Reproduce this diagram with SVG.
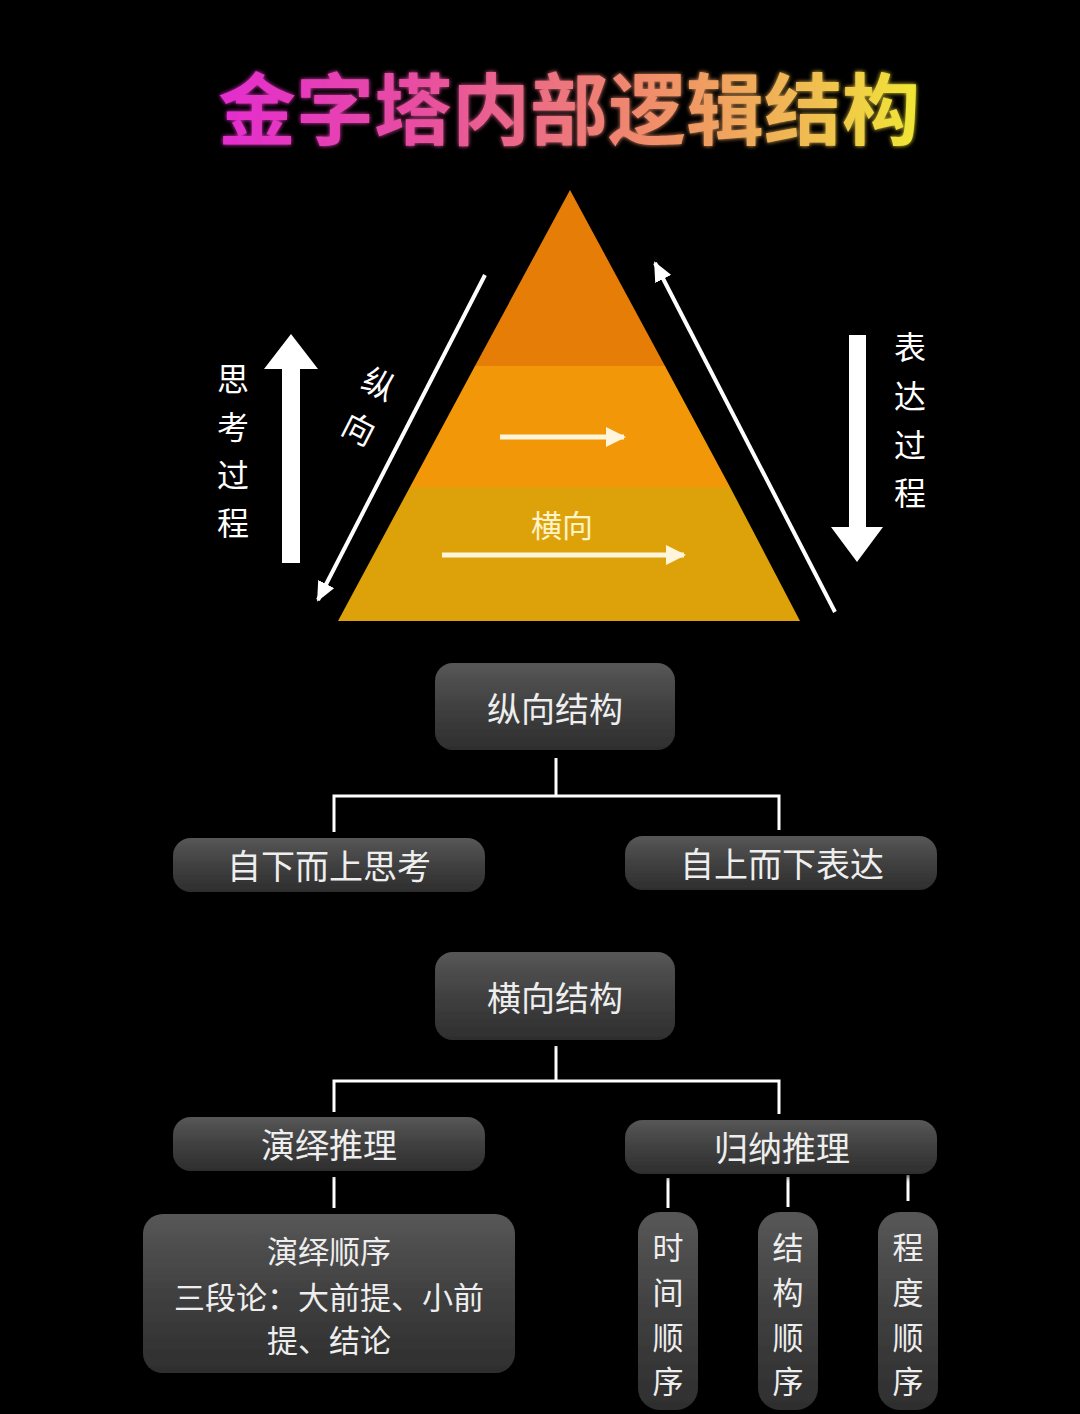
<svg xmlns="http://www.w3.org/2000/svg" width="1080" height="1414" viewBox="0 0 1080 1414">
<defs>
<linearGradient id="tg" gradientUnits="userSpaceOnUse" x1="218" y1="0" x2="920" y2="0">
<stop offset="0" stop-color="#E42CD0"/>
<stop offset="0.3" stop-color="#E8509E"/>
<stop offset="0.6" stop-color="#F08A6C"/>
<stop offset="0.85" stop-color="#F0BE50"/>
<stop offset="1" stop-color="#F0E834"/>
</linearGradient>
<linearGradient id="bg" x1="0" y1="0" x2="0" y2="1">
<stop offset="0" stop-color="#575757"/>
<stop offset="0.5" stop-color="#404040"/>
<stop offset="1" stop-color="#2e2e2e"/>
</linearGradient>
<filter id="glow" x="-10%" y="-30%" width="120%" height="160%">
<feGaussianBlur in="SourceGraphic" stdDeviation="2" result="b"/>
<feMerge><feMergeNode in="b"/><feMergeNode in="SourceGraphic"/></feMerge>
</filter>
<filter id="sh" x="-10%" y="-20%" width="120%" height="150%">
<feDropShadow dx="0" dy="3" stdDeviation="3" flood-color="#000" flood-opacity="0.8"/>
</filter>
<marker id="ah" viewBox="0 0 10 10" refX="9" refY="5" markerWidth="5" markerHeight="4.5" orient="auto" markerUnits="strokeWidth" preserveAspectRatio="none">
<path d="M0,0 L10,5 L0,10 Z" fill="#fff"/>
</marker>
<marker id="ah2" viewBox="0 0 10 10" refX="9" refY="5" markerWidth="4" markerHeight="4" orient="auto" markerUnits="strokeWidth">
<path d="M0,0 L10,5 L0,10 Z" fill="#FFF5DC"/>
</marker>
</defs>
<style>
text{font-family:"Noto Sans CJK SC","Noto Sans",sans-serif;}
.t{fill:#EEEEEE;font-size:34px;text-anchor:middle;dominant-baseline:central;}
.s{fill:#EEEEEE;font-size:31px;text-anchor:middle;dominant-baseline:central;}
.v{fill:#FFFFFF;font-size:32px;text-anchor:middle;dominant-baseline:central;}
.box{fill:url(#bg);filter:url(#sh);}
.ln{stroke:#FFFFFF;stroke-width:3;fill:none;}
</style>
<rect x="0" y="0" width="1080" height="1414" fill="#000"/>

<g id="title">
<text x="569" y="105" font-size="78" font-weight="bold" fill="url(#tg)" text-anchor="middle" dominant-baseline="central" filter="url(#glow)" textLength="702" lengthAdjust="spacingAndGlyphs">金字塔内部逻辑结构</text>
</g>

<g id="pyramid">
<polygon points="570,190 475,366 665,366" fill="#E57D06"/>
<polygon points="475,366 665,366 730,487 410,487" fill="#F29808"/>
<polygon points="410,487 730,487 800,621 338,621" fill="#DDA20A"/>
<line x1="500" y1="437" x2="624" y2="437" stroke="#FFF5DC" stroke-width="5" marker-end="url(#ah2)"/>
<line x1="442" y1="555" x2="684" y2="555" stroke="#FFF5DC" stroke-width="5" marker-end="url(#ah2)"/>
<text x="562" y="523" font-size="31" fill="#FFF3C8" text-anchor="middle" dominant-baseline="central">横向</text>
</g>

<g id="vertical-label">
<text x="380" y="382" font-size="32" fill="#FFFFFF" text-anchor="middle" dominant-baseline="central" transform="rotate(27 380 382)">纵</text>
<text x="360" y="427" font-size="32" fill="#FFFFFF" text-anchor="middle" dominant-baseline="central" transform="rotate(27 360 427)">向</text>
</g>

<g id="think-process">
<polygon points="291,334 318,369 300,369 300,563 282,563 282,369 264,369" fill="#FFFFFF"/>
<text class="v" x="233" y="377">思</text>
<text class="v" x="233" y="425">考</text>
<text class="v" x="233" y="473">过</text>
<text class="v" x="233" y="521">程</text>
</g>

<g id="express-process">
<polygon points="849,335 866,335 866,527 883,527 857,562 831,527 849,527" fill="#FFFFFF"/>
<text class="v" x="910" y="345">表</text>
<text class="v" x="910" y="394">达</text>
<text class="v" x="910" y="443">过</text>
<text class="v" x="910" y="491">程</text>
</g>

<g id="connectors">
<line x1="485" y1="275" x2="318" y2="600" stroke="#FFFFFF" stroke-width="4" marker-end="url(#ah)"/>
<line x1="835" y1="612" x2="655" y2="263" stroke="#FFFFFF" stroke-width="4" marker-end="url(#ah)"/>
<polyline class="ln" points="556,758 556,796"/>
<polyline class="ln" points="334,832 334,796 779,796 779,830"/>
<polyline class="ln" points="556,1046 556,1081"/>
<polyline class="ln" points="334,1112 334,1081 779,1081 779,1114"/>
<line class="ln" x1="334" y1="1177" x2="334" y2="1208"/>
<line class="ln" x1="668" y1="1178" x2="668" y2="1208"/>
<line class="ln" x1="788" y1="1177" x2="788" y2="1207"/>
<line class="ln" x1="908" y1="1175" x2="908" y2="1201"/>
</g>

<g id="node-zongxiang">
<rect class="box" x="435" y="663" width="240" height="87" rx="18"/>
<text class="t" x="555" y="707">纵向结构</text>
</g>
<g id="node-bottom-up">
<rect class="box" x="173" y="838" width="312" height="54" rx="18"/>
<text class="t" x="329" y="864">自下而上思考</text>
</g>
<g id="node-top-down">
<rect class="box" x="625" y="836" width="312" height="54" rx="18"/>
<text class="t" x="782" y="862">自上而下表达</text>
</g>
<g id="node-hengxiang">
<rect class="box" x="435" y="952" width="240" height="88" rx="18"/>
<text class="t" x="555" y="996">横向结构</text>
</g>
<g id="node-deduction">
<rect class="box" x="173" y="1117" width="312" height="54" rx="18"/>
<text class="t" x="329" y="1143">演绎推理</text>
</g>
<g id="node-induction">
<rect class="box" x="625" y="1120" width="312" height="54" rx="18"/>
<text class="t" x="782" y="1146">归纳推理</text>
</g>
<g id="node-deduction-order">
<rect class="box" x="143" y="1214" width="372" height="159" rx="20"/>
<text class="s" x="329" y="1249">演绎顺序</text>
<text class="s" x="329" y="1295">三段论：大前提、小前</text>
<text class="s" x="329" y="1338">提、结论</text>
</g>
<g id="node-time-order">
<rect class="box" x="638" y="1212" width="60" height="198" rx="22"/>
<text class="s" x="668" y="1245">时</text>
<text class="s" x="668" y="1290">间</text>
<text class="s" x="668" y="1335">顺</text>
<text class="s" x="668" y="1379">序</text>
</g>
<g id="node-structure-order">
<rect class="box" x="758" y="1212" width="60" height="198" rx="22"/>
<text class="s" x="788" y="1245">结</text>
<text class="s" x="788" y="1290">构</text>
<text class="s" x="788" y="1335">顺</text>
<text class="s" x="788" y="1379">序</text>
</g>
<g id="node-degree-order">
<rect class="box" x="878" y="1212" width="60" height="198" rx="22"/>
<text class="s" x="908" y="1245">程</text>
<text class="s" x="908" y="1290">度</text>
<text class="s" x="908" y="1335">顺</text>
<text class="s" x="908" y="1379">序</text>
</g>
</svg>
